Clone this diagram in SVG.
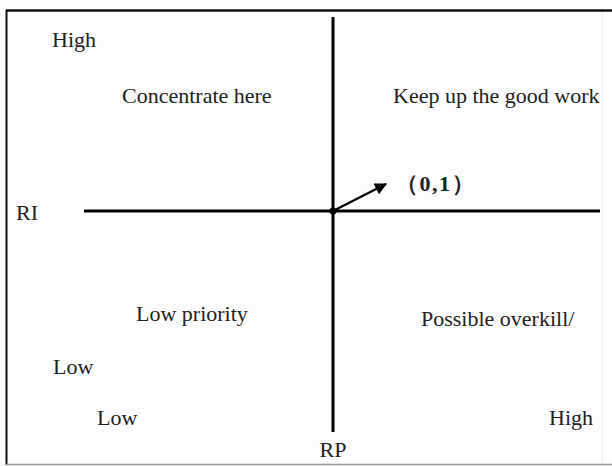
<svg xmlns="http://www.w3.org/2000/svg" width="612" height="466" viewBox="0 0 612 466">
<style>
text{font-family:"Liberation Serif","Times New Roman",serif;font-size:22px;fill:#222}
.b{font-weight:bold}
.ax{stroke:#000;stroke-width:3;fill:none}
</style>
<defs>
<marker id="ah" viewBox="0 0 10 10" refX="9" refY="5" markerWidth="6" markerHeight="5.5" orient="auto" markerUnits="strokeWidth">
<path d="M0,0 L10,5 L0,10 z" fill="#000"/>
</marker>
</defs>
<rect width="612" height="466" fill="#fdfdfd"/>
<g id="frame">
<line x1="6" y1="10.5" x2="612" y2="10.5" stroke="#111" stroke-width="2.5"/>
<line x1="6.5" y1="10" x2="6.5" y2="465" stroke="#111" stroke-width="2"/>
<line x1="6" y1="464.5" x2="612" y2="464.5" stroke="#999" stroke-width="1.5"/>
<line x1="602.5" y1="12" x2="602.5" y2="463" stroke="#eee" stroke-width="1"/>
</g>
<g id="connectors">
<line class="ax" x1="333" y1="17" x2="333" y2="432"/>
<line class="ax" x1="84" y1="211" x2="600" y2="211"/>
<line x1="333" y1="211" x2="386" y2="184" stroke="#000" stroke-width="2.2" marker-end="url(#ah)"/>
<circle cx="333" cy="211" r="3.5" fill="#000"/>
</g>
<g id="labels">
<text x="52" y="47">High</text>
<text x="122" y="103">Concentrate here</text>
<text x="393" y="103">Keep up the good work</text>
<text class="b" x="396" y="191" letter-spacing="1.5" font-family="'Liberation Serif','Noto Sans CJK SC',serif">（0,1）</text>
<text x="16" y="220">RI</text>
<text x="136" y="321">Low priority</text>
<text x="421" y="326">Possible overkill/</text>
<text x="53" y="374">Low</text>
<text x="97" y="425">Low</text>
<text x="549" y="425">High</text>
<text x="333" y="457" text-anchor="middle">RP</text>
</g>
</svg>
